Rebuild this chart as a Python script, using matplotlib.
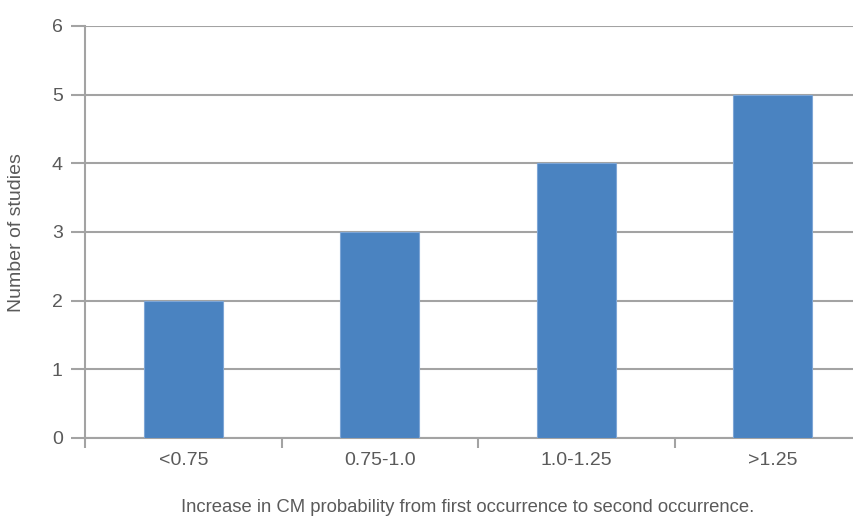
import matplotlib
matplotlib.use('Agg')
import matplotlib.pyplot as plt
import numpy as np

categories = ['<0.75', '0.75-1.0', '1.0-1.25', '>1.25']
studies = [2, 3, 4, 5]
yticks = [0, 1, 2, 3, 4, 5, 6]

plt.rcParams['font.family'] = ['Liberation Sans', 'DejaVu Sans']
txtcol = '#5a5a5a'
grid = '#a3a3a3'

fig = plt.figure(figsize=(8.54, 5.16), dpi=100)
ax = fig.add_axes([85/854, 1 - 438/516, 786/854, 412/516])

x = np.arange(len(categories))
ax.bar(x, studies, width=0.40, color='#4a83c1', edgecolor='#7ea6d6', linewidth=0.8, zorder=3)

ax.set_xlim(-0.5, len(categories) - 0.5)
ax.set_ylim(0, 6)
ax.set_yticks(yticks)
ax.yaxis.grid(True, color=grid, linewidth=1.5, zorder=1)
ax.set_axisbelow(True)

# category labels in the middle, small ticks on the boundaries
ax.set_xticks(x)
ax.set_xticklabels(categories)
ax.set_xticks(np.arange(len(categories) + 1) - 0.5, minor=True)
ax.tick_params(axis='x', which='major', length=0, pad=10, labelsize=14, labelcolor=txtcol)
ax.tick_params(axis='x', which='minor', length=7, width=1.5, color=grid, direction='out')
ax.tick_params(axis='y', length=10, width=1.5, color=grid, pad=6, labelsize=14, labelcolor=txtcol)

for s in ['top', 'right']:
    ax.spines[s].set_visible(False)
for s in ['left', 'bottom']:
    ax.spines[s].set_color(grid)
    ax.spines[s].set_linewidth(1.5)

fig.text(17/854, 1 - 233/516, 'Number of studies', rotation=90, ha='center', va='center',
         fontsize=14, color=txtcol)
fig.text(468/854, 1 - 507/516, 'Increase in CM probability from first occurrence to second occurrence.',
         ha='center', va='center', fontsize=13.3, color=txtcol)

plt.savefig('out.png', dpi=100)
